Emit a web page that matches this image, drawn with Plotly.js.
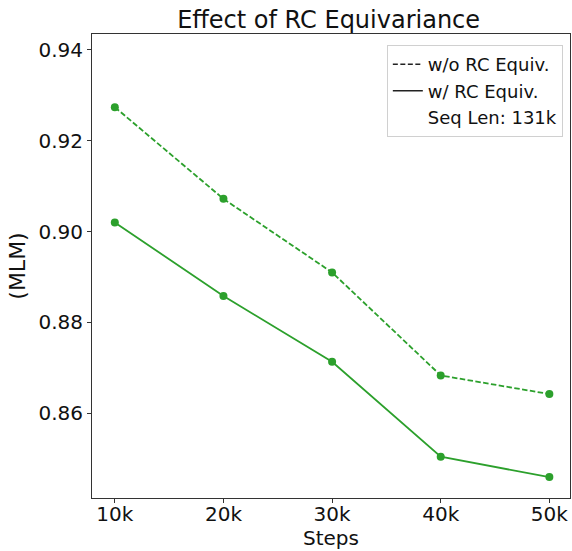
<!DOCTYPE html>
<html>
<head>
<meta charset="utf-8">
<script src="https://cdn.plot.ly/plotly-3.0.1.min.js"></script>
<style>html,body{margin:0;padding:0;background:#fff;}#chart{width:572px;height:551px;}</style>
</head>
<body>
<div id="chart"></div>
<script>
const steps = ['10k', '20k', '30k', '40k', '50k'];
const withoutRC = [0.9274, 0.9072, 0.8910, 0.8683, 0.8642];
const withRC = [0.9020, 0.8858, 0.8713, 0.8504, 0.8459];
const yTicks = [0.86, 0.88, 0.90, 0.92, 0.94];
const yTickText = ['0.86', '0.88', '0.90', '0.92', '0.94'];
const legendNames = ['w/o RC Equiv.', 'w/ RC Equiv.', 'Seq Len: 131k'];
const green = '#2ca02c';
const FONT = 'DejaVu Sans, sans-serif';
const mplDash = '5.5px,2.4px';

const traces = [
  {x: steps, y: withoutRC, mode: 'lines+markers', line: {color: green, width: 1.8, dash: mplDash},
   marker: {color: green, size: 8}, showlegend: false, hoverinfo: 'skip'},
  {x: steps, y: withRC, mode: 'lines+markers', line: {color: green, width: 1.8},
   marker: {color: green, size: 8}, showlegend: false, hoverinfo: 'skip'},
  {x: [null], y: [null], mode: 'lines', name: legendNames[0], legendgroup: 'a', line: {color: '#222', width: 1.5, dash: '5px,2.5px'}},
  {x: [null], y: [null], mode: 'lines', name: legendNames[1], legendgroup: 'b', line: {color: '#222', width: 1.5}},
  {x: [null], y: [null], mode: 'lines', name: legendNames[2], legendgroup: 'c', line: {color: 'rgba(0,0,0,0)', width: 0}}
];

const layout = {
  width: 572, height: 551,
  margin: {l: 92, r: 2, t: 34, b: 53},
  paper_bgcolor: '#fff', plot_bgcolor: '#fff',
  font: {family: FONT, color: '#111'},
  title: {text: 'Effect of RC Equivariance', font: {family: FONT, size: 24, color: '#111'},
          x: 0.495, xref: 'paper', xanchor: 'center', y: 0.964, yanchor: 'middle'},
  xaxis: {type: 'category', range: [-0.21, 4.19], showgrid: false, zeroline: false,
          showline: true, mirror: true, linecolor: '#333', linewidth: 1,
          ticks: 'outside', ticklen: 4, tickcolor: '#333', ticklabelstandoff: -6,
          tickfont: {family: FONT, size: 20, color: '#111'},
          title: {text: 'Steps', font: {family: FONT, size: 20, color: '#111'}, standoff: 0}},
  yaxis: {range: [0.8413, 0.94352], showgrid: false, zeroline: false,
          showline: true, mirror: true, linecolor: '#333', linewidth: 1,
          ticks: 'outside', ticklen: 4, tickcolor: '#333',
          tickvals: yTicks, ticktext: yTickText,
          tickfont: {family: FONT, size: 20, color: '#111'},
          title: {text: '(MLM)', font: {family: FONT, size: 22, color: '#111'}, standoff: 6}},
  legend: {x: 0.985, xanchor: 'right', y: 0.976, yanchor: 'top',
           bgcolor: 'rgba(255,255,255,0.8)', bordercolor: '#d0d0d0', borderwidth: 1,
           font: {family: FONT, size: 18, color: '#111'}, tracegroupgap: 0}
};

Plotly.newPlot('chart', traces, layout, {staticPlot: true, displayModeBar: false});
</script>
</body>
</html>
